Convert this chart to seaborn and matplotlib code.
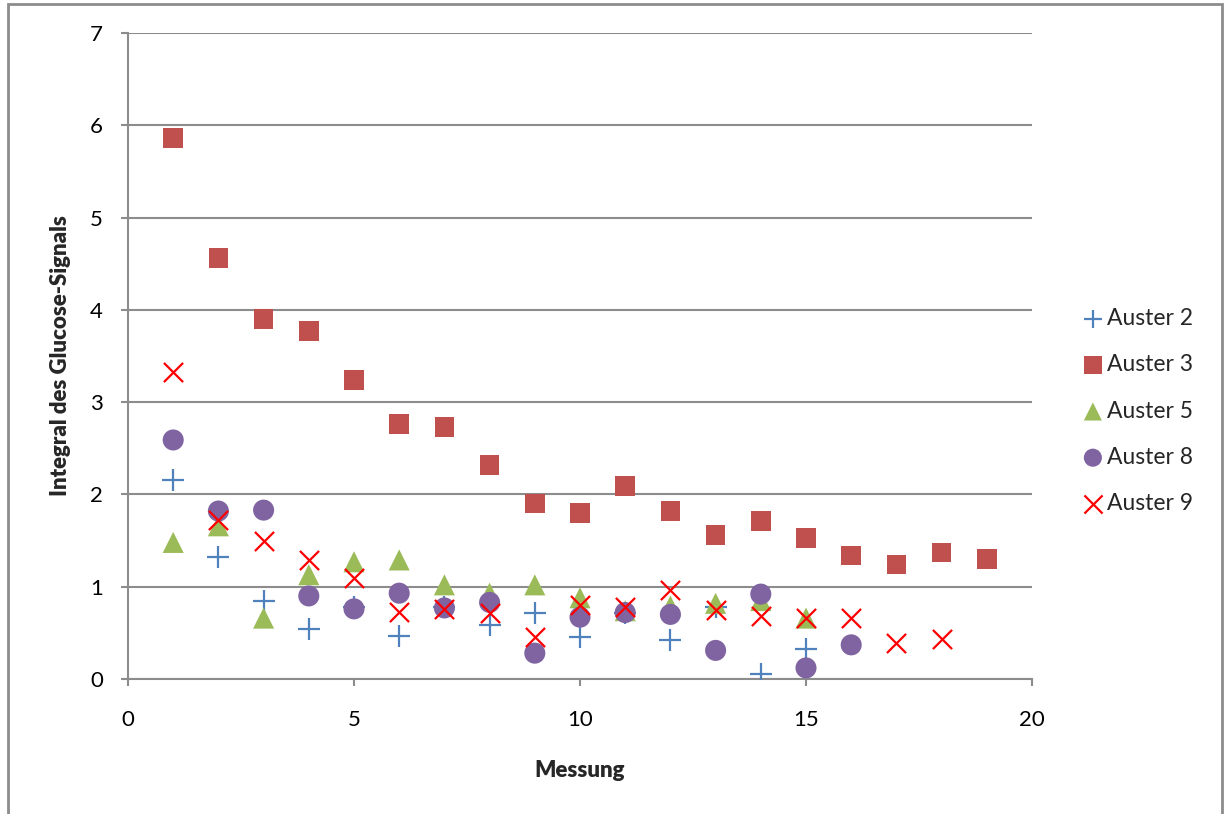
import numpy as np
import pandas as pd
import matplotlib
matplotlib.use("Agg")
import matplotlib.pyplot as plt
from matplotlib.patches import Rectangle
import seaborn as sns

# Integral of the glucose signal per measurement for each oyster
auster2 = [2.16, 1.32, 0.85, 0.54, 0.78, 0.47, 0.78, 0.58, 0.72, 0.45,
           0.72, 0.42, 0.78, 0.05, 0.32]
auster3 = [5.86, 4.56, 3.90, 3.77, 3.24, 2.76, 2.73, 2.32, 1.90, 1.80,
           2.09, 1.82, 1.56, 1.71, 1.53, 1.34, 1.24, 1.37, 1.30]
auster5 = [1.48, 1.66, 0.66, 1.13, 1.27, 1.29, 1.02, 0.93, 1.02, 0.88,
           0.74, 0.79, 0.82, 0.85, 0.66]
auster8 = [2.59, 1.82, 1.83, 0.90, 0.76, 0.93, 0.77, 0.83, 0.28, 0.67,
           0.72, 0.70, 0.31, 0.92, 0.12, 0.37]
auster9 = [3.33, 1.72, 1.49, 1.29, 1.09, 0.73, 0.76, 0.71, 0.45, 0.80,
           0.78, 0.96, 0.75, 0.68, 0.66, 0.66, 0.39, 0.43]

series_names = ["Auster 2", "Auster 3", "Auster 5", "Auster 8", "Auster 9"]
series_values = [auster2, auster3, auster5, auster8, auster9]

x_ticks = [0, 5, 10, 15, 20]
y_ticks = [0, 1, 2, 3, 4, 5, 6, 7]

frames = []
for name, vals in zip(series_names, series_values):
    frames.append(pd.DataFrame({"Messung": np.arange(1, len(vals) + 1),
                                "Integral": vals, "Serie": name}))
df = pd.concat(frames, ignore_index=True)

styles = {
    "Auster 2": dict(marker="+", color="#4F81BD", s=240, linewidth=1.6),
    "Auster 3": dict(marker="s", color="#C0504D", s=200, linewidth=0),
    "Auster 5": dict(marker="^", color="#9BBB59", s=230, linewidth=0),
    "Auster 8": dict(marker="o", color="#8064A2", s=230, linewidth=0),
    "Auster 9": dict(marker="x", color="#FF0000", s=190, linewidth=1.6),
}

sns.set_theme(style="white")
plt.rcParams["font.family"] = ["Lato", "DejaVu Sans"]

fig = plt.figure(figsize=(12.27, 8.14), dpi=100)
ax = fig.add_axes([128 / 1227, 1 - 679 / 814, (1032 - 128) / 1227, (679 - 33) / 814])

for name in series_names:
    sub = df[df["Serie"] == name]
    st = styles[name]
    sns.scatterplot(data=sub, x="Messung", y="Integral", ax=ax, label=name,
                    marker=st["marker"], color=st["color"], s=st["s"],
                    linewidth=st["linewidth"], edgecolor=st["color"] if st["linewidth"] else "none",
                    zorder=3)

grey = "#8C8C8C"
ax.set_xlim(0, 20)
ax.set_ylim(0, 7)
ax.set_xticks(x_ticks)
ax.set_yticks(y_ticks)
ax.grid(axis="y", color=grey, linewidth=1.5)
ax.grid(axis="x", visible=False)
ax.set_axisbelow(True)
for side in ["top", "right"]:
    ax.spines[side].set_visible(False)
for side in ["left", "bottom"]:
    ax.spines[side].set_color(grey)
    ax.spines[side].set_linewidth(1.5)
ax.tick_params(axis="both", which="major", length=5, width=1.5, color=grey,
               labelsize=16, labelcolor="black", direction="out")
ax.tick_params(axis="x", pad=17, bottom=True)
ax.tick_params(axis="y", pad=13, left=True)

ax.set_xlabel("Messung", fontsize=16, fontweight="heavy", labelpad=22)
ax.set_ylabel("Integral des Glucose-Signals", fontsize=16, fontweight="heavy", labelpad=14)

leg = ax.legend(loc="center left", bbox_to_anchor=(1086 / 1227, 1 - 411 / 814),
                bbox_transform=fig.transFigure, frameon=False, fontsize=16.5,
                handlelength=0.6, handletextpad=0.3, labelspacing=1.1,
                borderaxespad=0, borderpad=0)
for h in leg.legend_handles:
    h.set_sizes([170])

fig.patches.append(Rectangle((8 / 1227, -0.05), (1222 - 8) / 1227, 1 - 4 / 814 + 0.05,
                             transform=fig.transFigure, fill=False,
                             edgecolor=grey, linewidth=2))

fig.savefig("out.png", dpi=100)
